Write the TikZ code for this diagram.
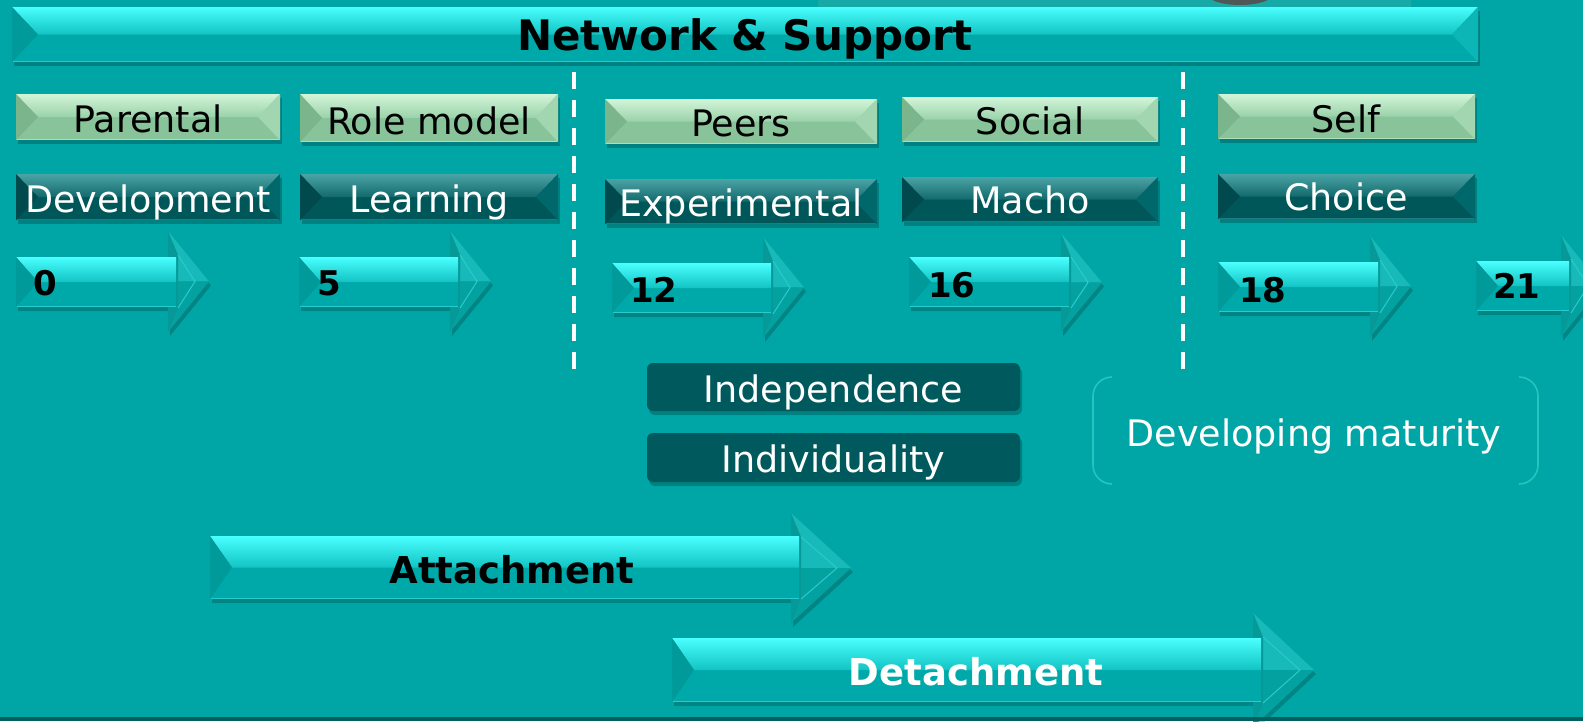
\documentclass[tikz,border=0pt]{standalone}
\usepackage{fontspec}
\setmainfont{DejaVu Sans}
\definecolor{bg}{HTML}{00A6A6}
% green bevel
\definecolor{GT}{HTML}{D2F5D8}
\definecolor{GM}{HTML}{9AD2AA}
\definecolor{GB}{HTML}{88C39A}
\definecolor{GL}{HTML}{7AB58C}
\definecolor{GR}{HTML}{A2D6B0}
\definecolor{GE}{HTML}{AEDFB9}
% dark bevel
\definecolor{DT}{HTML}{4AA3A5}
\definecolor{DM}{HTML}{136A6D}
\definecolor{DB}{HTML}{00575A}
\definecolor{DL}{HTML}{004A4E}
\definecolor{DR}{HTML}{00676B}
\definecolor{DE}{HTML}{1F7C80}
% cyan bevel
\definecolor{CT}{HTML}{4AFFFF}
\definecolor{CM}{HTML}{12C3C3}
\definecolor{CB}{HTML}{00A9A9}
\definecolor{CL}{HTML}{009A9B}
\definecolor{CR}{HTML}{0DB6B6}
\definecolor{CE}{HTML}{28CCCC}
\definecolor{CHU}{HTML}{18B9B9}
\definecolor{CHL}{HTML}{04A1A1}
\definecolor{CHS}{HTML}{079898}
\definecolor{boxdark}{HTML}{005A5D}
\definecolor{bracketc}{HTML}{22C6BE}
\definecolor{topstrip}{HTML}{17A9A6}
\definecolor{blob}{HTML}{4F5757}
\definecolor{bottomband}{HTML}{00605F}

% x1 y1 x2 y2 inset prefix
\newcommand\bevelrect[6]{%
  \fill[black,opacity=.22] ({#1+2},{#2+4}) rectangle ({#3+2},{#4+4});
  \fill[#6B] (#1,#2) rectangle (#3,#4);
  \shade[top color=#6T,bottom color=#6M] (#1,#2) -- (#3,#2) -- ({#3-#5},{(#2+#4)/2}) -- ({#1+#5},{(#2+#4)/2}) -- cycle;
  \fill[#6L] (#1,#2) -- ({#1+#5},{(#2+#4)/2}) -- (#1,#4) -- cycle;
  \fill[#6R] (#3,#2) -- ({#3-#5},{(#2+#4)/2}) -- (#3,#4) -- cycle;
  \draw[#6E,line width=1.2] ({#1+1},{#4-0.6}) -- ({#3-1},{#4-0.6});
}
% x1 bodytop bodybottom headbase headtop headbottom tip
\newcommand\bevelarrow[7]{%
  \fill[black,opacity=.2] ({#1+2},{#2+4}) -- ({#4+2},{#2+4}) -- ({#4+2},{#5+4}) -- ({#7+2},{(#5+#6)/2+4}) -- ({#4+2},{#6+4}) -- ({#4+2},{#3+4}) -- ({#1+2},{#3+4}) -- cycle;
  \fill[CHU] (#4,#5) -- (#7,{(#5+#6)/2}) -- (#4,{(#5+#6)/2}) -- cycle;
  \fill[CHL] (#4,{(#5+#6)/2}) -- (#7,{(#5+#6)/2}) -- (#4,#6) -- cycle;
  \fill[CHS] (#4,#5) -- ({#4+10},{#5+24}) -- ({#4+10},{#6-24}) -- (#4,#6) -- cycle;
  \draw[CE,line width=1] ({#4+10},{#5+24}) -- ({#7-14},{(#5+#6)/2}) -- ({#4+10},{#6-24});
  \fill[CB] (#1,#2) rectangle ({#4+8},#3);
  \shade[top color=CT,bottom color=CM] (#1,#2) -- ({#4+8},#2) -- ({#4+8},{(#2+#3)/2}) -- ({#1+22},{(#2+#3)/2}) -- cycle;
  \fill[CL] (#1,#2) -- ({#1+22},{(#2+#3)/2}) -- (#1,#3) -- cycle;
  \draw[CE,line width=1.2] ({#1+1},{#3-0.6}) -- ({#4+8},{#3-0.6});
}

\tikzset{
  lbl/.style={font=\fontsize{36.5}{40}\selectfont, anchor=base, inner sep=0pt, text=black},
  lblw/.style={lbl, text=white},
  num/.style={font=\fontsize{34}{38}\selectfont\bfseries, anchor=base west, inner sep=0pt, text=black},
  big/.style={font=\fontsize{37}{40}\selectfont\bfseries, anchor=base, inner sep=0pt},
  divider/.style={white, line width=4.5, dash pattern=on 17 off 11},
  roundbox/.style={fill=boxdark, rounded corners=6},
  shadowbox/.style={fill=black, opacity=.22, rounded corners=6},
}

\begin{document}
\begin{tikzpicture}[x=1pt,y=-1pt]
\path[use as bounding box, fill=bg] (0,0) rectangle (1583,721);

% cut-off image strip at top
\fill[topstrip] (818,0) rectangle (1411,9);
\fill[blob] (1240,-6) ellipse [x radius=33, y radius=11];

% banner
\bevelrect{12}{7}{1478}{62}{26}{C}
\node[big, text=black, font=\fontsize{42}{46}\selectfont\bfseries] (network) at (745,50) {Network \& Support};

% dividers
\coordinate (d1top) at (574,72); \coordinate (d1bot) at (574,377);
\coordinate (d2top) at (1183,72); \coordinate (d2bot) at (1183,377);
\draw[divider] (d1top) -- (d1bot);
\draw[divider] (d2top) -- (d2bot);

% row 1 (light)
\bevelrect{16}{94}{280}{140}{22}{G}
\node[lbl] (parental) at (148,132) {Parental};
\bevelrect{300}{94}{558}{142}{22}{G}
\node[lbl] (rolemodel) at (429,134) {Role model};
\bevelrect{605}{99}{877}{144}{22}{G}
\node[lbl] (peers) at (741,136) {Peers};
\bevelrect{902}{97}{1158}{142}{22}{G}
\node[lbl] (social) at (1030,134) {Social};
\bevelrect{1218}{94}{1475}{139}{22}{G}
\node[lbl] (self) at (1346,132) {Self};

% row 2 (dark)
\bevelrect{16}{174}{280}{220}{22}{D}
\node[lblw] (development) at (148,212) {Development};
\bevelrect{300}{174}{558}{220}{22}{D}
\node[lblw] (learning) at (429,212) {Learning};
\bevelrect{605}{179}{877}{224}{22}{D}
\node[lblw] (experimental) at (741,216) {Experimental};
\bevelrect{902}{177}{1158}{222}{22}{D}
\node[lblw] (macho) at (1030,213) {Macho};
\bevelrect{1218}{174}{1475}{219}{22}{D}
\node[lblw] (choice) at (1346,210) {Choice};

% age arrows
\bevelarrow{16}{257}{307}{168}{231}{332}{209}
\node[num] (age0) at (33,295) {0};
\bevelarrow{299}{257}{307}{450}{231}{332}{491}
\node[num] (age5) at (317,295) {5};
\bevelarrow{612}{263}{313}{763}{237}{338}{804}
\node[num] (age12) at (630,302) {12};
\bevelarrow{909}{257}{307}{1061}{233}{332}{1102}
\node[num] (age16) at (928,297) {16};
\bevelarrow{1218}{262}{312}{1370}{236}{337}{1411}
\node[num] (age18) at (1239,302) {18};
\bevelarrow{1476}{261}{311}{1561}{235}{337}{1602}
\node[num] (age21) at (1493,298) {21};

% independence / individuality
\fill[shadowbox] (649,367) rectangle (1022,415);
\fill[roundbox] (647,363) rectangle (1020,411);
\node[lblw] (independence) at (833.5,402) {Independence};
\fill[shadowbox] (649,437) rectangle (1022,486);
\fill[roundbox] (647,433) rectangle (1020,482);
\node[lblw] (individuality) at (833.5,472) {Individuality};

% developing maturity bracket
\draw[bracketc, line width=1.6, rounded corners=19] (1112,377) -- (1093,377) -- (1093,484) -- (1112,484);
\draw[bracketc, line width=1.6, rounded corners=19] (1519,377) -- (1538,377) -- (1538,484) -- (1519,484);
\node[lblw] (maturity) at (1314,446) {Developing maturity};

% attachment / detachment
\bevelarrow{210}{536}{599}{791}{513}{623}{851}
\node[big, text=black] (attachment) at (512,583) {Attachment};
\bevelarrow{672}{638}{702}{1253}{613}{727}{1314}
\node[big, text=white] (detachment) at (976,685) {Detachment};

% bottom band
\fill[bottomband] (0,717) rectangle (1583,721);
\end{tikzpicture}
\end{document}
